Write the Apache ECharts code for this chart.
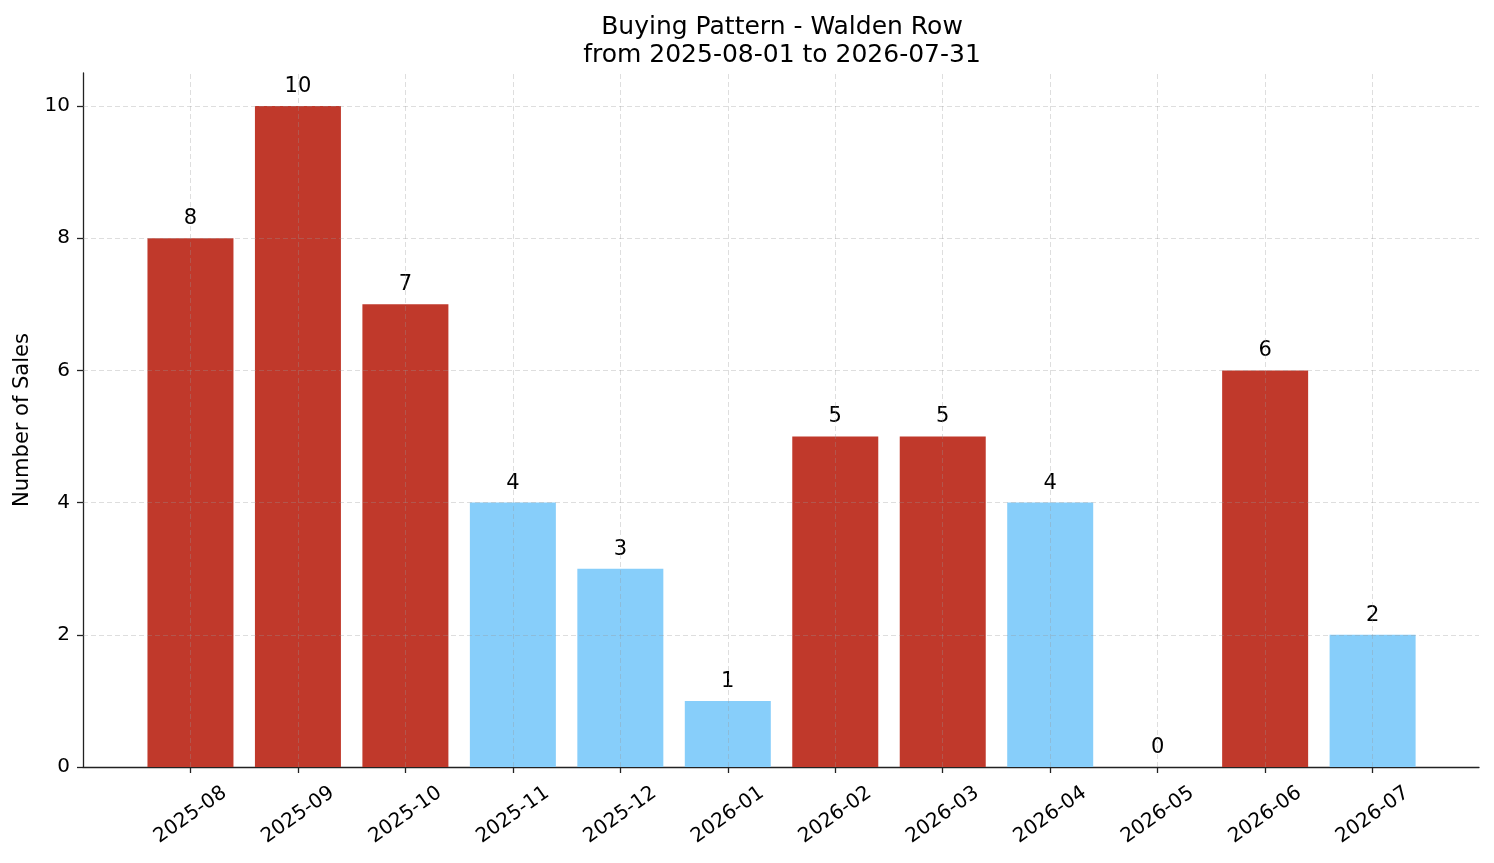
<!DOCTYPE html>
<html>
<head>
<meta charset="utf-8">
<script src="https://cdn.jsdelivr.net/npm/echarts@6/dist/echarts.min.js"></script>
<style>
html,body{margin:0;padding:0;background:#fff;}
#chart{width:1494px;height:863px;}
</style>
</head>
<body>
<div id="chart"></div>
<script>
const titleText = 'Buying Pattern - Walden Row\nfrom 2025-08-01 to 2026-07-31';
const yAxisName = 'Number of Sales';
const categories = ['2025-08','2025-09','2025-10','2025-11','2025-12','2026-01','2026-02','2026-03','2026-04','2026-05','2026-06','2026-07'];
const sales = [8, 10, 7, 4, 3, 1, 5, 5, 4, 0, 6, 2];
const yTicks = [0, 2, 4, 6, 8, 10];

const highColor = '#c0392b';
const lowColor = '#87cefa';
const avg = sales.reduce((a, b) => a + b, 0) / sales.length;
const idx = categories.map((c, i) => i);

const font = 'DejaVu Sans';
const chart = echarts.init(document.getElementById('chart'), null, {renderer: 'canvas'});
chart.setOption({
  animation: false,
  backgroundColor: '#ffffff',
  textStyle: {fontFamily: font},
  title: {
    text: titleText,
    left: 777,
    top: 8,
    textAlign: 'center',
    textStyle: {fontFamily: font, fontSize: 25, fontWeight: 'normal', color: '#000', lineHeight: 28}
  },
  grid: {left: 83, right: 15, top: 73, bottom: 96, containLabel: false},
  xAxis: {
    type: 'value',
    min: -1.0,
    max: categories.length - 1 + 0.99,
    axisLine: {show: true, onZero: false, lineStyle: {color: '#222', width: 1.3}},
    axisTick: {show: true, customValues: idx, length: 6, lineStyle: {color: '#222', width: 1.3}},
    axisLabel: {
      customValues: idx,
      rotate: 35,
      align: 'center',
      verticalAlign: 'middle',
      margin: 48,
      fontFamily: font,
      fontSize: 20,
      color: '#000',
      formatter: v => categories[Math.round(v)]
    },
    splitLine: {show: false}
  },
  yAxis: {
    type: 'value',
    min: 0,
    max: 10.5,
    name: yAxisName,
    nameLocation: 'middle',
    nameGap: 50,
    nameTextStyle: {fontFamily: font, fontSize: 21, color: '#000'},
    axisLine: {show: true, onZero: false, lineStyle: {color: '#222', width: 1.3}},
    axisTick: {show: true, customValues: yTicks, length: 6, lineStyle: {color: '#222', width: 1.3}},
    axisLabel: {customValues: yTicks, fontFamily: font, fontSize: 20, color: '#000', margin: 13},
    splitLine: {show: false}
  },
  series: [{
    type: 'bar',
    barWidth: 86,
    data: sales.map((v, i) => ({
      value: [i, v],
      itemStyle: {color: v > avg ? highColor : lowColor}
    })),
    label: {
      show: true,
      position: 'top',
      distance: 9,
      fontFamily: font,
      fontSize: 21,
      color: '#000',
      formatter: p => String(p.value[1])
    },
    markLine: {
      silent: true,
      symbol: ['none', 'none'],
      label: {show: false},
      animation: false,
      lineStyle: {type: [5, 3], color: 'rgba(150,150,150,0.4)', width: 0.8},
      data: idx.map(i => ({xAxis: i})).concat(yTicks.filter(v => v > 0).map(v => ({yAxis: v})))
    }
  }]
});
</script>
</body>
</html>
